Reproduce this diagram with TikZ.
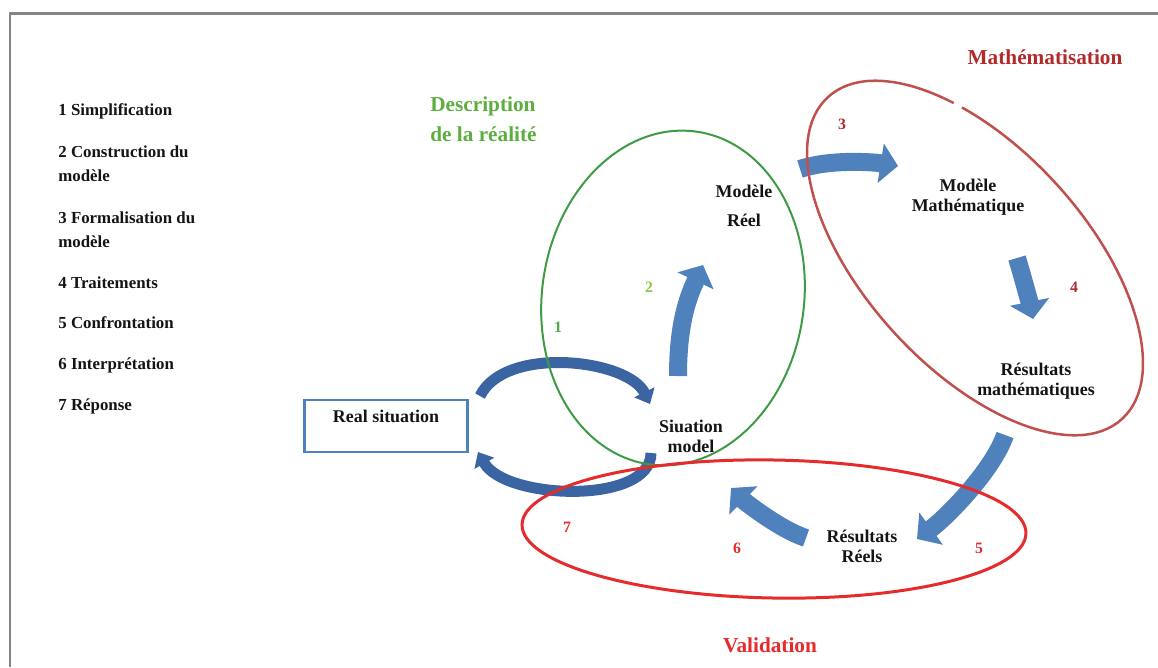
\documentclass[tikz,border=0pt]{standalone}
\usepackage{fontspec}
\setmainfont{Liberation Serif}
\usetikzlibrary{arrows.meta}
\definecolor{framegray}{HTML}{858585}
\definecolor{arrowblue}{HTML}{4F81BD}
\definecolor{darkblue}{HTML}{3B65A2}
\definecolor{greenline}{HTML}{3E9B45}
\definecolor{greentitle}{HTML}{5DAE3F}
\definecolor{greennum}{HTML}{55A84A}
\definecolor{lightgreen}{HTML}{8CC63F}
\definecolor{mathred}{HTML}{C0504D}
\definecolor{mathtitle}{HTML}{B22A2A}
\definecolor{validred}{HTML}{E52B2B}
\definecolor{ink}{HTML}{141414}

\begin{document}
\begin{tikzpicture}[x=0.02cm,y=-0.02cm,
  legend/.style={anchor=west,align=left,inner sep=0pt,text=ink,font=\fontsize{9.6}{13.8}\selectfont\bfseries},
  label/.style={align=center,inner sep=1pt,text=ink,font=\fontsize{10.2}{11.3}\selectfont\bfseries},
  title/.style={align=left,inner sep=0pt,font=\fontsize{12.1}{17}\selectfont\bfseries},
  num/.style={inner sep=0pt,font=\fontsize{9}{10}\selectfont\bfseries},
  flow/.style={line width=3.6mm,arrowblue,-{Triangle[width=7.8mm,length=3.5mm]}},
  loopflow/.style={line width=2.2mm,darkblue,-{Triangle[width=4.4mm,length=2.6mm]}}]
\useasboundingbox (0,0) rectangle (1158,667);
\draw[framegray,line width=0.6mm] (10,667) -- (10,13) -- (1158,13);

% legende
\node[legend] (leg1) at (58,111) {1 Simplification};
\node[legend] (leg2) at (58,164) {2 Construction du\\modèle};
\node[legend] (leg3) at (58,230) {3 Formalisation du\\modèle};
\node[legend] (leg4) at (58,283) {4 Traitements};
\node[legend] (leg5) at (58,323) {5 Confrontation};
\node[legend] (leg6) at (58,365) {6 Interprétation};
\node[legend] (leg7) at (58,406) {7 Réponse};

% etapes
\node[draw=arrowblue,line width=0.5mm,inner sep=0pt,minimum width=3.26cm,text height=0.44cm,text depth=0.6cm,text=ink,font=\fontsize{10.2}{12}\selectfont\bfseries] (rs) at (386,426) {Real situation};
\node[label] (sm) at (691,436) {Siuation\\model};
\node[label,font=\fontsize{10.2}{16.4}\selectfont\bfseries] (mr) at (744,206) {Modèle\\Réel};
\node[label] (mm) at (968,197) {Modèle\\Mathématique};
\node[label] (rm) at (1036,381) {Résultats\\mathématiques};
\node[label] (rr) at (862,546) {Résultats\\Réels};

\node[num,text=greennum] (n1) at (558,327) {1};
\node[num,text=lightgreen] (n2) at (649,287) {2};
\node[num,text=mathtitle] (n3) at (842,124) {3};
\node[num,text=mathtitle] (n4) at (1074,287) {4};
\node[num,text=validred] (n5) at (979,548) {5};
\node[num,text=validred] (n6) at (737,548) {6};
\node[num,text=validred] (n7) at (567,527) {7};

% fleches
\coordinate (c1a) at (480,396); \coordinate (c1b) at (650,404);
\coordinate (c7a) at (651,453); \coordinate (c7b) at (478,452);
\coordinate (c2a) at (678,376); \coordinate (c2b) at (703,265);
\coordinate (c3a) at (800,169); \coordinate (c3b) at (898,166);
\coordinate (c4a) at (1017,258); \coordinate (c4b) at (1033,319);
\coordinate (c5a) at (1005,435); \coordinate (c5b) at (917,539);
\coordinate (c6a) at (806,538); \coordinate (c6b) at (731,488);
\draw[loopflow] (c1a) .. controls +(25,-51) and +(-22,-45) .. (c1b);
\draw[loopflow] (c7a) .. controls +(0,52) and +(27,48) .. (c7b);
\draw[flow] (c2a) .. controls +(0,-50) and +(-16,34) .. (c2b);
\draw[flow] (c3a) .. controls +(30,-10) and +(-25,-4) .. (c3b);
\draw[flow] (c4a) .. controls +(6,20) and +(-3,-15) .. (c4b);
\draw[flow] (c5a) .. controls +(-12,35) and +(30,-22) .. (c5b);
\draw[flow] (c6a) .. controls +(-25,-8) and +(14,14) .. (c6b);

% ellipses
\draw[greenline,line width=0.4mm,rotate around={-8:(673,298)}] (673,298) ellipse [x radius=131,y radius=168];
\draw[mathred,line width=0.5mm,rotate around={-47.6:(975,258)}] (975,258) ellipse [x radius=218,y radius=110];
\draw[white,line width=1.4mm] (954,102.8) -- (962,107.2);
\draw[validred,line width=0.6mm,rotate around={-1:(774,529)}] (774,529) ellipse [x radius=252,y radius=69];

\node[title,text=greentitle,anchor=west] (desc) at (430,119) {Description\\de la réalité};
\node[title,text=mathtitle] (math) at (1045,57) {Mathématisation};
\node[title,text=validred] (valid) at (770,645) {Validation};
\end{tikzpicture}
\end{document}
